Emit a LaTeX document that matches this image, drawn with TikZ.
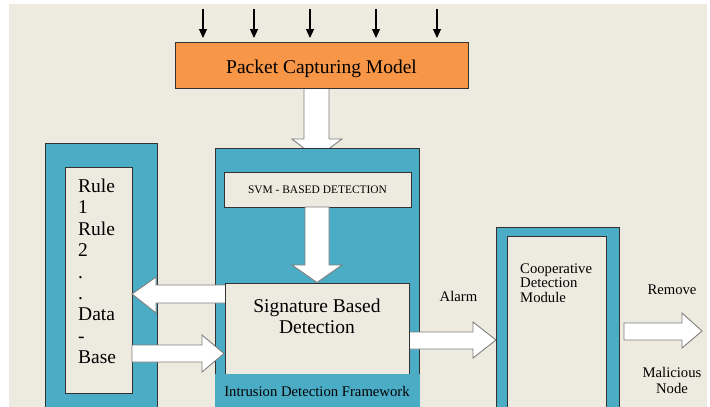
\documentclass[tikz,border=0pt]{standalone}
\usepackage{fontspec}
\setmainfont{Liberation Serif}
\newfontfamily\tnr{Liberation Serif}
\usetikzlibrary{arrows.meta}
\definecolor{bg}{HTML}{EDEBE0}
\definecolor{boxblue}{HTML}{4BACC6}
\definecolor{orng}{HTML}{F79646}
\definecolor{edge}{HTML}{333333}
\definecolor{arrgray}{HTML}{7F7F7F}
\begin{document}
\begin{tikzpicture}[x=1pt,y=-1pt,
  box/.style={draw=edge, line width=0.9pt, anchor=north west, inner sep=0pt, outer sep=0pt},
  bluebox/.style={box, fill=boxblue},
  beigebox/.style={box, fill=bg},
  blockarrow/.style={draw=arrgray, fill=white, line width=0.9pt, line join=miter},
  thinarrow/.style={draw=black, line width=1.1pt, -{Triangle[length=9pt,width=8pt]}},
  bigtxt/.style={font=\tnr\fontsize{19.5}{21.4}\selectfont, inner sep=0pt},
  midtxt/.style={font=\tnr\fontsize{14.7}{15}\selectfont, inner sep=0pt},
  smalltxt/.style={font=\tnr\fontsize{11.45}{13}\selectfont, inner sep=0pt}]
\useasboundingbox (0,0) rectangle (710,407);
\clip (0,0) rectangle (710,407);
\fill[white] (0,0) rectangle (710,407);
\fill[bg] (9,4) rectangle (707,410);

% packet capturing -> framework
\draw[blockarrow] (304,86) -- (304,139) -- (292,139) -- (316.5,158) -- (342,139) -- (329,139) -- (329,86) -- cycle;
\node[box, fill=orng, minimum width=293pt, minimum height=46pt] (pcm) at (175,42) {};
\node[bigtxt, anchor=base] (pcmt) at (321.5,73) {Packet Capturing Model};
\foreach \x in {203,254,310,376,437}
  \draw[thinarrow] (\x,9) -- (\x,38);

% rule database
\node[bluebox, minimum width=112pt, minimum height=280pt] (rdbo) at (45,143) {};
\node[beigebox, minimum width=67pt, minimum height=226pt] (rdb) at (65,167) {};
\node[bigtxt, anchor=north west, align=left] (rdbt) at (78,178.8) {Rule\\1\\Rule\\2\\.\\.\\Data\\-\\Base};

% framework
\node[bluebox, minimum width=204pt, minimum height=280pt] (idf) at (215,148) {};
\node[beigebox, minimum width=187pt, minimum height=35pt] (svm) at (224,172) {};
\node[smalltxt, anchor=base] (svmt) at (317.5,193.3) {SVM - BASED DETECTION};
\draw[blockarrow] (305,207) -- (305,265) -- (292,265) -- (317,282.5) -- (342,265) -- (329,265) -- (329,207) -- cycle;

% arrows between signature and rule db
\draw[blockarrow] (227,285) -- (156,285) -- (156,277) -- (132,294) -- (156,313) -- (156,303) -- (227,303) -- cycle;
\draw[blockarrow] (132,345) -- (202,345) -- (202,335) -- (224,353.5) -- (202,372) -- (202,362) -- (132,362) -- cycle;
% alarm
\draw[blockarrow] (407,332) -- (473,332) -- (473,322) -- (496,340) -- (473,358) -- (473,349) -- (407,349) -- cycle;

\node[beigebox, minimum width=184pt, minimum height=110pt] (sig) at (225,283) {};
\node[bigtxt, anchor=north, align=center, font=\tnr\fontsize{19.5}{21}\selectfont] (sigt) at (317,298.7) {Signature Based\\Detection};
\fill[boxblue] (215,373.5) rectangle (420,410);
\node[midtxt, anchor=base] (idft) at (317,396.7) {Intrusion Detection Framework};

\node[midtxt, anchor=base] (alarm) at (458.5,301.7) {Alarm};

% cooperative
\node[bluebox, minimum width=123pt, minimum height=200pt] (cdmo) at (496,227) {};
\node[beigebox, minimum width=99pt, minimum height=200pt] (cdm) at (507,236) {};
\node[midtxt, anchor=north west, align=left, font=\tnr\fontsize{14.7}{14.6}\selectfont] (cdmt) at (520,263.2) {Cooperative\\Detection\\Module};

% remove
\draw[blockarrow] (624,323) -- (682,323) -- (682,313) -- (702,331) -- (682,348) -- (682,340) -- (624,340) -- cycle;
\node[midtxt, anchor=base] (remove) at (672,294) {Remove};
\node[midtxt, anchor=north, align=center, font=\tnr\fontsize{14.7}{16}\selectfont] (mal) at (672,367) {Malicious\\Node};
\end{tikzpicture}
\end{document}
